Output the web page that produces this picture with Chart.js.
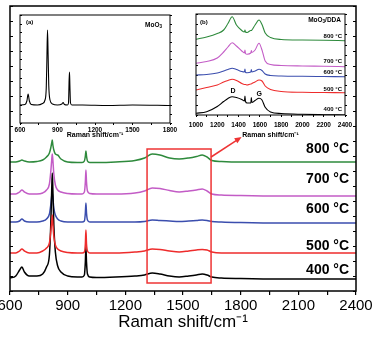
<!DOCTYPE html>
<html>
<head>
<meta charset="utf-8">
<title>Raman spectra of MoO3/DDA</title>
<script src="https://cdn.jsdelivr.net/npm/chart.js@4.4.0/dist/chart.umd.min.js"></script>
<style>
  html, body { margin: 0; padding: 0; background: #fff; }
  #wrap { position: relative; width: 380px; height: 339px; overflow: hidden; }
  canvas { position: absolute; }
  #main { left: 0; top: 0; width: 380px; height: 339px; z-index: 1; }
  #insetA { left: 14px; top: 12px; width: 164px; height: 130px; z-index: 2; }
  #insetB { left: 186px; top: 10px; width: 168px; height: 132px; z-index: 2; }
</style>
</head>
<body>
<div id="wrap">
  <canvas id="main" width="380" height="339"></canvas>
  <canvas id="insetA" width="164" height="130"></canvas>
  <canvas id="insetB" width="168" height="132"></canvas>
</div>
<script>
// --- MAIN PANEL DATA (Raman shift in cm-1, intensity in a.u., curves already offset) ---
const SHIFT = [600, 630, 650, 662, 675, 700, 740, 770, 790, 805, 812, 817, 820, 823, 828, 836, 848, 865, 900, 950,
  975, 987, 992, 995, 998, 1003, 1015, 1050, 1150, 1250, 1300, 1340, 1380, 1430, 1480, 1530, 1570, 1600, 1625, 1650,
  1700, 1800, 2000, 2200, 2400];
const I_400 = [13, 15, 21, 24, 19, 15, 15, 17, 24, 36, 66, 101, 118, 101, 66, 39, 25, 19, 15, 14,
  14, 16, 29, 44, 29, 17, 14, 13.5, 14, 15, 16, 18, 17, 15, 14, 15, 16, 17, 16, 14,
  13, 12.5, 12, 12, 12];
const I_500 = [38, 38, 40, 42, 40, 38, 38, 40, 43, 48, 59, 69, 76, 67, 55, 46, 42, 40, 38.5, 38,
  38, 39, 47, 61, 47, 40, 38, 38, 38, 39, 40, 42, 41.5, 40, 39, 40, 41, 41.5, 41, 39,
  38, 38, 38, 38, 38];
const I_600 = [69, 69, 70, 72, 70, 69, 69, 70, 72, 77, 86, 95, 98, 93, 83, 76, 72, 70, 69, 69,
  69, 70, 78, 88, 78, 71, 69, 69, 69, 69, 69.5, 71, 70.5, 70, 69.5, 70, 70.5, 71, 70.5, 69.5,
  69, 68.5, 68, 68, 68];
const I_700 = [97, 97, 99, 101, 99, 97, 97, 98, 101, 107, 119, 131, 137, 131, 117, 106, 101, 99, 97.5, 97,
  97, 99, 109, 121, 109, 100, 97.5, 97, 97, 98, 100, 103, 102.5, 100.5, 99, 100, 101, 102, 100, 97,
  96, 95.5, 95, 95, 95];
const I_800 = [129, 129, 130, 131, 130, 129, 129.5, 131, 134, 138, 143, 148, 151, 146, 141, 137, 136, 132, 129, 128.5,
  128.5, 130, 135, 140, 135, 130, 128.5, 128.5, 129, 130.5, 133, 137, 136, 133, 132, 133, 134.5, 136, 134, 130.5,
  129.5, 129, 129, 129, 129];
const MAIN_LABELS = [600, 900, 1200, 1500, 1800, 2100, 2400];

// --- INSET (a): pure MoO3 ---
const SHIFT_A = [600, 640, 655, 665, 675, 690, 740, 780, 800, 810, 815, 820, 825, 830, 840, 860, 900, 935, 945, 955,
  980, 988, 993, 996, 999, 1004, 1015, 1100, 1300, 1500, 1800];
const I_MOO3 = [18, 18.5, 22, 29, 22, 18.5, 18, 19.5, 23, 35, 63, 93, 68, 38, 23, 19, 18, 19, 20.5, 18.5,
  18, 20, 43, 51, 38, 20, 18, 18, 17.5, 18, 17.5];
const INSET_A_LABELS = [600, 900, 1200, 1500, 1800];

// --- INSET (b): D and G bands of MoO3/DDA ---
const SHIFT_B = [1000, 1100, 1200, 1260, 1300, 1340, 1380, 1430, 1455, 1460, 1465, 1480, 1515, 1520, 1525, 1555,
  1592, 1620, 1650, 1700, 1800, 2000, 2200, 2400];
const B_800 = [75.7, 78, 81.5, 85, 91.5, 98.3, 90, 84.5, 83, 85, 83, 82.5, 84.5, 84.5, 85, 90, 95, 90.5, 82, 77.5, 75.5, 75, 74.7, 74.3];
const B_700 = [51.7, 53.5, 57, 63, 68, 72.3, 69, 64, 62, 65, 61.5, 60.7, 62, 64.5, 62.5, 65, 71.7, 65, 54, 50.5, 49.5, 49, 48.7, 48.3];
const B_600 = [40, 40.5, 42, 44, 45.5, 46.7, 45.5, 43.5, 43, 46, 42.5, 42.3, 43, 45.5, 43, 44, 45.7, 44.5, 41, 39.5, 39, 38.7, 38.5, 38.3];
const B_500 = [25, 27.5, 30, 33, 34.5, 35.7, 34.5, 31.5, 30.5, 30.5, 30.5, 30, 31, 31, 31.5, 33, 35, 34, 29, 25.5, 23.5, 22.7, 22.5, 22.3];
const B_400 = [1.7, 3.3, 8.5, 13.5, 16.5, 18.3, 17.5, 15.5, 14, 19, 13.5, 12, 12, 17.5, 12.5, 14.5, 16.7, 15, 7.7, 3, 1.5, 0.7, 0.3, 0];
const INSET_B_LABELS = [1000, 1200, 1400, 1600, 1800, 2000, 2200, 2400];

// --- LABELS & ANNOTATIONS ---
const TEMPS = ['800', '700', '600', '500', '400'];
const MAIN_LABEL_Y = [142, 112, 82, 45, 21];   // intensity level of each temperature label
const MAIN_LABEL_X = 2364;
const INSET_B_LABEL_Y = [79, 54, 43, 26, 6];
const ZOOM_BOX_X = [1313, 1646];
const ZOOM_BOX_Y = [8, 142];
const ARROW_FROM = [1646, 134];
const ARROW_TO = [1805, 154];

const COLORS = { '800': '#2e8a3c', '700': '#c35cc6', '600': '#3b4eae', '500': '#ee2c2c', '400': '#000000' };
const FONT = 'Arial, "Liberation Sans", Helvetica, sans-serif';

Chart.defaults.font.family = FONT;
Chart.defaults.color = '#000';

const toPoints = (xs, ys) => xs.map((x, i) => ({ x, y: ys[i] }));

// tick positions: a mark every `step`
const tickRange = (min, max, step) => {
  const out = [];
  for (let v = min; v <= max + 1e-6; v += step) out.push({ value: v });
  return out;
};

// red drawn last (on top), then black, magenta, blue, green
const DRAW_ORDER = { '500': 0, '400': 1, '700': 2, '600': 3, '800': 4 };

const makeSets = (xs, table, width) => Object.keys(table).map(t => ({
  label: t + ' °C',
  data: toPoints(xs, table[t]),
  borderColor: COLORS[t],
  borderWidth: width,
  order: DRAW_ORDER[t]
}));

// plot frame around the chart area
const framePlugin = {
  id: 'frame',
  afterDraw(chart, args, opts) {
    const { ctx, chartArea: a } = chart;
    ctx.save();
    ctx.strokeStyle = '#000';
    ctx.lineWidth = opts.width || 1;
    ctx.strokeRect(a.left, a.top, a.right - a.left, a.bottom - a.top);
    ctx.restore();
  }
};

// text with subscripts, right aligned; parts = [[text, isSub], ...]
const drawRich = (ctx, parts, xRight, y, size) => {
  const fontFor = sub => `bold ${sub ? size * 0.7 : size}px ${FONT}`;
  const widths = parts.map(([t, sub]) => { ctx.font = fontFor(sub); return ctx.measureText(t).width; });
  let x = xRight - widths.reduce((a, b) => a + b, 0);
  ctx.textAlign = 'left';
  ctx.textBaseline = 'middle';
  parts.forEach(([t, sub], i) => {
    ctx.font = fontFor(sub);
    ctx.fillText(t, x, sub ? y + size * 0.3 : y);
    x += widths[i];
  });
};

const insetANotes = {
  id: 'insetANotes',
  afterDraw(chart) {
    const { ctx, chartArea: a } = chart;
    ctx.save();
    ctx.fillStyle = '#000';
    ctx.font = `bold 6px ${FONT}`;
    ctx.textAlign = 'left';
    ctx.textBaseline = 'middle';
    ctx.fillText('(a)', a.left + 6, a.top + 7);
    drawRich(ctx, [['MoO', false], ['3', true]], a.right - 8, a.top + 10, 6.5);
    ctx.restore();
  }
};

const insetBNotes = {
  id: 'insetBNotes',
  afterDraw(chart) {
    const { ctx, chartArea: a, scales: { x, y } } = chart;
    ctx.save();
    ctx.fillStyle = '#000';
    ctx.font = `bold 6px ${FONT}`;
    ctx.textAlign = 'left';
    ctx.textBaseline = 'middle';
    ctx.fillText('(b)', a.left + 4, a.top + 8);
    drawRich(ctx, [['MoO', false], ['3', true], ['/DDA', false]], a.right - 4, a.top + 6, 6.5);
    ctx.font = `bold 6px ${FONT}`;
    ctx.textAlign = 'right';
    TEMPS.forEach((t, i) => ctx.fillText(`${t} °C`, a.right - 3, y.getPixelForValue(INSET_B_LABEL_Y[i])));
    ctx.font = `bold 7px ${FONT}`;
    ctx.textAlign = 'center';
    ctx.fillText('D', x.getPixelForValue(1348), y.getPixelForValue(24));
    ctx.fillText('G', x.getPixelForValue(1595), y.getPixelForValue(21));
    ctx.restore();
  }
};

const lineDefaults = {
  point: { radius: 0 },
  line: { cubicInterpolationMode: 'monotone' }
};

// --- INSETS ---
const insetOptions = (cfg) => ({
  responsive: false,
  animation: false,
  events: [],
  layout: { padding: { top: cfg.padTop, left: 0, right: 0, bottom: 0 } },
  elements: lineDefaults,
  plugins: { legend: { display: false }, tooltip: { enabled: false }, frame: { width: 1 } },
  scales: {
    x: {
      type: 'linear', min: cfg.xMin, max: cfg.xMax,
      afterBuildTicks: s => { s.ticks = tickRange(cfg.xMin, cfg.xMax, cfg.xStep); },
      afterFit: s => { s.height = cfg.xHeight; s.paddingLeft = 0; s.paddingRight = 0; },
      ticks: {
        autoSkip: false, maxRotation: 0, padding: cfg.tickPad,
        font: { size: 6.5, weight: 'bold' },
        callback: v => cfg.labels.includes(v) ? String(v) : ''
      },
      grid: { drawOnChartArea: false, tickLength: 2, color: '#000' },
      border: { display: false },
      title: { display: true, text: 'Raman shift/cm⁻¹', font: { size: 7, weight: 'bold' }, padding: { top: 0, bottom: 3 } }
    },
    y: {
      min: 0, max: cfg.yMax,
      afterFit: s => { s.width = cfg.yWidth; },
      ticks: { display: false, stepSize: cfg.yStep },
      grid: { drawOnChartArea: false, tickLength: -2, color: '#000' },
      border: { display: false }
    },
    yr: {
      position: 'right', min: 0, max: cfg.yMax,
      afterFit: s => { s.width = cfg.yrWidth; },
      ticks: { display: false, stepSize: cfg.yStep },
      grid: { drawOnChartArea: false, tickLength: 2, color: '#000' },
      border: { display: false }
    }
  }
});

new Chart(document.getElementById('insetA'), {
  type: 'line',
  data: {
    datasets: [{ label: 'MoO3', data: toPoints(SHIFT_A, I_MOO3), borderColor: '#000', borderWidth: 1.1 }]
  },
  options: insetOptions({
    xMin: 600, xMax: 1800, xStep: 150, labels: INSET_A_LABELS, tickPad: 1,
    yMax: 108, yStep: 9, padTop: 3, yWidth: 6, yrWidth: 8, xHeight: 19
  }),
  plugins: [framePlugin, insetANotes]
});

new Chart(document.getElementById('insetB'), {
  type: 'line',
  data: {
    datasets: makeSets(SHIFT_B, { '800': B_800, '700': B_700, '600': B_600, '500': B_500, '400': B_400 }, 1.1)
  },
  options: insetOptions({
    xMin: 1000, xMax: 2400, xStep: 100, labels: INSET_B_LABELS, tickPad: 4,
    yMax: 101, yStep: 10, padTop: 4, yWidth: 10, yrWidth: 9, xHeight: 27
  }),
  plugins: [framePlugin, insetBNotes]
});

// zoom box, arrow and temperature labels on the main panel
const mainNotes = {
  id: 'mainNotes',
  afterDraw(chart) {
    const { ctx, scales: { x, y } } = chart;
    ctx.save();
    ctx.strokeStyle = '#ee3434';
    ctx.fillStyle = '#ee3434';
    ctx.lineWidth = 1.5;
    const bx0 = x.getPixelForValue(ZOOM_BOX_X[0]), bx1 = x.getPixelForValue(ZOOM_BOX_X[1]);
    const by0 = y.getPixelForValue(ZOOM_BOX_Y[1]), by1 = y.getPixelForValue(ZOOM_BOX_Y[0]);
    ctx.strokeRect(bx0, by0, bx1 - bx0, by1 - by0);

    const ax0 = x.getPixelForValue(ARROW_FROM[0]), ay0 = y.getPixelForValue(ARROW_FROM[1]);
    const ax1 = x.getPixelForValue(ARROW_TO[0]), ay1 = y.getPixelForValue(ARROW_TO[1]);
    const ang = Math.atan2(ay1 - ay0, ax1 - ax0);
    const head = 7;
    ctx.beginPath();
    ctx.moveTo(ax0, ay0);
    ctx.lineTo(ax1 - Math.cos(ang) * head * 0.8, ay1 - Math.sin(ang) * head * 0.8);
    ctx.stroke();
    ctx.beginPath();
    ctx.moveTo(ax1, ay1);
    ctx.lineTo(ax1 - head * Math.cos(ang) + 3 * Math.sin(ang), ay1 - head * Math.sin(ang) - 3 * Math.cos(ang));
    ctx.lineTo(ax1 - head * Math.cos(ang) - 3 * Math.sin(ang), ay1 - head * Math.sin(ang) + 3 * Math.cos(ang));
    ctx.closePath();
    ctx.fill();

    ctx.fillStyle = '#000';
    ctx.font = `bold 14px ${FONT}`;
    ctx.textAlign = 'right';
    ctx.textBaseline = 'middle';
    TEMPS.forEach((t, i) => {
      ctx.fillText(`${t} °C`, x.getPixelForValue(MAIN_LABEL_X), y.getPixelForValue(MAIN_LABEL_Y[i]));
    });
    ctx.restore();
  }
};

// --- MAIN PANEL ---
new Chart(document.getElementById('main'), {
  type: 'line',
  data: {
    datasets: makeSets(SHIFT, { '800': I_800, '700': I_700, '600': I_600, '500': I_500, '400': I_400 }, 1.5)
  },
  options: {
    responsive: false,
    animation: false,
    events: [],
    layout: { padding: { top: 6, left: 0, right: 0, bottom: 0 } },
    elements: lineDefaults,
    plugins: { legend: { display: false }, tooltip: { enabled: false }, frame: { width: 1.5 } },
    scales: {
      x: {
        type: 'linear', min: 600, max: 2400,
        afterBuildTicks: s => { s.ticks = tickRange(600, 2400, 150); },
        afterFit: s => { s.height = 48; s.paddingLeft = 0; s.paddingRight = 0; },
        ticks: {
          autoSkip: false, maxRotation: 0, padding: 2,
          font: { size: 15 },
          callback: v => MAIN_LABELS.includes(v) ? String(v) : ''
        },
        grid: { drawOnChartArea: false, tickLength: 4, color: '#000', lineWidth: 1.2 },
        border: { display: false },
        title: { display: true, text: 'Raman shift/cm⁻¹', font: { size: 17 }, padding: { top: 0, bottom: 6 } }
      },
      y: {
        min: 0, max: 285,
        afterFit: s => { s.width = 10; },
        ticks: { display: false, stepSize: 15 },
        grid: { drawOnChartArea: false, tickLength: -3, color: '#000' },
        border: { display: false }
      },
      yr: {
        position: 'right', min: 0, max: 285,
        afterFit: s => { s.width = 24; },
        ticks: { display: false, stepSize: 15 },
        grid: { drawOnChartArea: false, tickLength: -3, color: '#000' },
        border: { display: false }
      }
    }
  },
  plugins: [framePlugin, mainNotes]
});
</script>
</body>
</html>
